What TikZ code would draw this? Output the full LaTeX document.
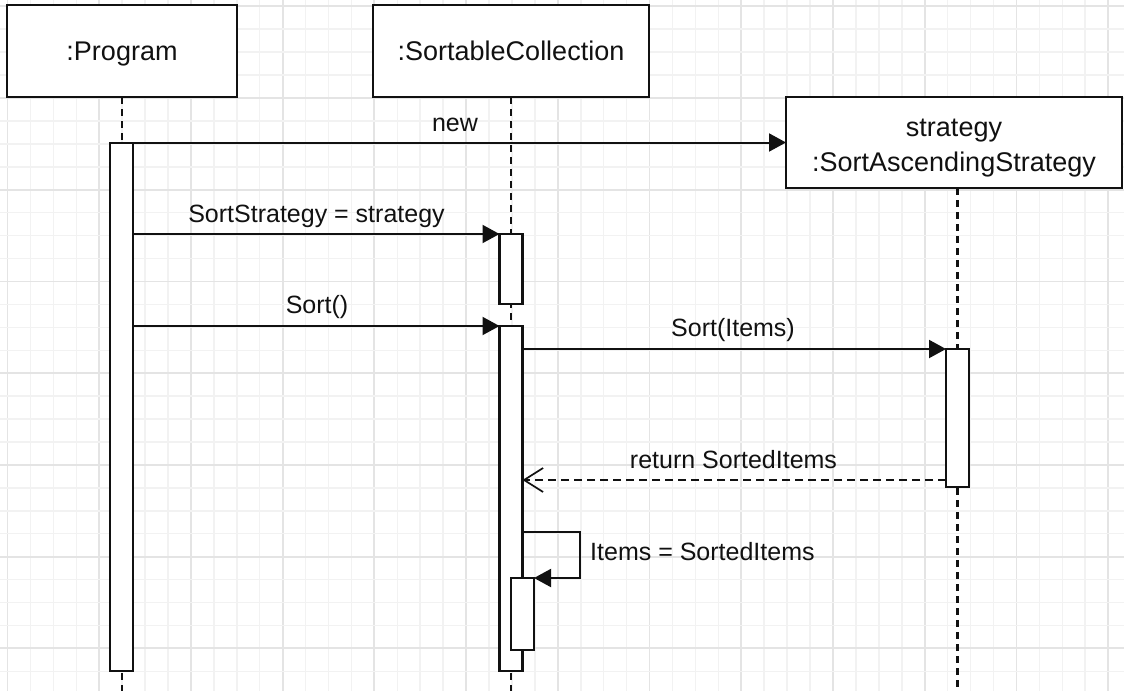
\documentclass[tikz,border=0pt]{standalone}
\usepackage{fontspec}
\setmainfont{Liberation Sans}
\usetikzlibrary{arrows.meta}
\definecolor{gridminor}{HTML}{F2F2F2}
\definecolor{gridmajor}{HTML}{E4E4E4}
\definecolor{ink}{HTML}{111111}
\tikzset{
  objbox/.style={draw=ink, line width=2.6pt, fill=white, inner sep=0pt, outer sep=0pt,
    minimum height=92pt, align=center, text=ink, font=\fontsize{27}{35}\selectfont},
  objtext/.style={inner sep=0pt, align=center, text=ink, font=\fontsize{27}{35}\selectfont},
  actbox/.style={draw=ink, line width=2.2pt, fill=white, inner sep=0pt, outer sep=0pt,
    minimum width=23pt, anchor=north},
  lifeline/.style={draw=ink, line width=2.2pt, dash pattern=on 7pt off 5pt},
  msg/.style={draw=ink, line width=2pt, -{Triangle[length=17pt,width=18pt]}},
  retmsg/.style={draw=ink, line width=1.7pt, dash pattern=on 8pt off 5pt, -{Straight Barb[length=19pt,width=24pt,line width=1.7pt]}},
  lbl/.style={font=\fontsize{25}{30}\selectfont, text=ink, inner sep=0pt},
}
\begin{document}
\begin{tikzpicture}[x=1pt,y=-1pt]
\useasboundingbox (0,0) rectangle (1124,691);
\fill[white] (0,0) rectangle (1124,691);
% grid
\foreach \k in {0,...,48}{
  \pgfmathsetmacro{\gx}{7.5+22.93*\k}
  \pgfmathtruncatemacro{\m}{mod(\k,4)}
  \ifnum\m=0
    \draw[gridmajor, line width=1.8pt] (\gx,0) -- (\gx,691);
  \else
    \draw[gridminor, line width=1.5pt] (\gx,0) -- (\gx,691);
  \fi
}
\foreach \k in {0,...,29}{
  \pgfmathsetmacro{\gy}{6.3+22.93*\k}
  \pgfmathtruncatemacro{\m}{mod(\k,4)}
  \ifnum\m=0
    \draw[gridmajor, line width=1.8pt] (0,\gy) -- (1124,\gy);
  \else
    \draw[gridminor, line width=1.5pt] (0,\gy) -- (1124,\gy);
  \fi
}
% objects
\node[objbox, minimum width=230pt, text height=18pt, text depth=0pt] (prog) at (122,51) {:Program};
\node[objbox, minimum width=276pt, text height=18pt, text depth=0pt] (sc) at (511,51) {:SortableCollection};
\node[objbox, minimum width=336pt, minimum height=91pt] (strat) at (954,142.5) {};
\node[objtext] (strattxt) at ([yshift=-6pt]strat.center) {strategy\\:SortAscendingStrategy};
% lifeline ends
\coordinate (progend) at (122,691);
\coordinate (scend) at (511,691);
\coordinate (stend) at (957.5,691);
\draw[lifeline] (prog.south -| progend) -- (progend);
\draw[lifeline] (sc.south) -- (scend);
\draw[lifeline] (strat.south -| stend) -- (stend);
% activations
\node[actbox, minimum height=528pt] (pa) at (121.5,143) {};
\node[actbox, minimum height=70pt] (sca1) at (511,234) {};
\node[actbox, minimum height=345pt] (sca2) at (511,326) {};
\node[actbox, minimum height=138pt] (sta) at (957.5,349) {};
\node[actbox, minimum height=72pt] (scn) at (522.5,578) {};
% messages
\draw[msg] (pa.east |- strat.west) -- (strat.west);
\node[lbl] (lnew) at (455,125) {new};
\draw[msg] (pa.east |- sca1.north) -- (sca1.north west);
\node[lbl] (lss) at (316.5,216) {SortStrategy = strategy};
\draw[msg] (pa.east |- sca2.north) -- (sca2.north west);
\node[lbl] (lsort) at (317,307) {Sort()};
\draw[msg] (sca2.east |- sta.north) -- (sta.north west);
\node[lbl] (lsi) at (733,330) {Sort(Items)};
\coordinate (ret) at (946,480);
\draw[retmsg] (ret) -- (sca2.east |- ret);
\node[lbl] (lret) at (733.5,460) {return SortedItems};
\coordinate (selfs) at (523,532);
\coordinate (selfc) at (580,532);
\draw[msg] (selfs) -- (selfc) |- (scn.north east);
\node[lbl, anchor=west] (litems) at (590,551.5) {Items = SortedItems};
\end{tikzpicture}
\end{document}
